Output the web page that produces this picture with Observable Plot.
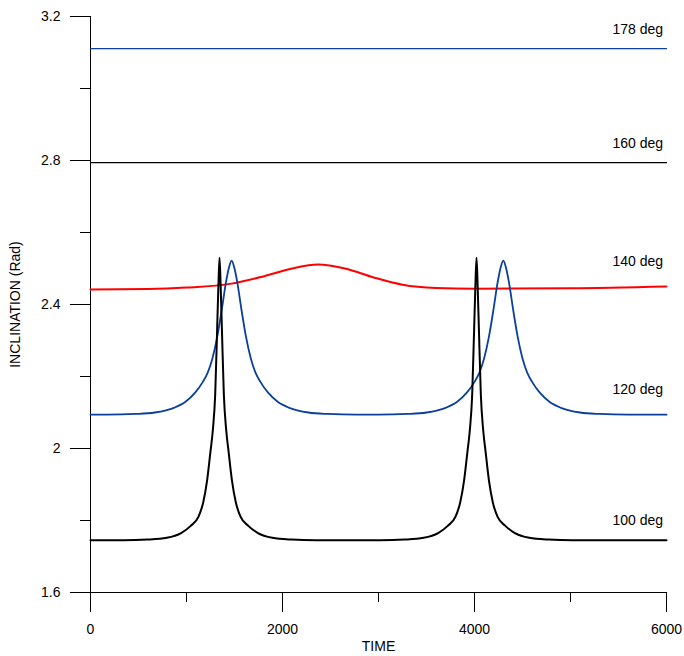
<!DOCTYPE html>
<html>
<head>
<meta charset="utf-8">
<script src="https://cdn.jsdelivr.net/npm/d3@7"></script>
<script src="https://cdn.jsdelivr.net/npm/@observablehq/plot@0.6"></script>
<style>
  body { margin: 0; background: #fff; }
</style>
</head>
<body>
<div id="chart"></div>
<script>
// valores
const t100 = [0, 344, 594, 794, 944, 1044, 1124, 1174, 1214, 1249, 1274, 1299, 1319, 1332, 1344, 1356, 1369, 1389, 1414, 1439, 1474, 1514, 1564, 1644, 1744, 1894, 2094, 2344,
              3021, 3271, 3471, 3621, 3721, 3801, 3851, 3891, 3926, 3951, 3976, 3996, 4009, 4021, 4033, 4046, 4066, 4091, 4116, 4151, 4191, 4241, 4321, 4421, 4571, 4771, 5021, 6000]
const v100 = [1.745, 1.745, 1.747, 1.752, 1.765, 1.785, 1.81, 1.85, 1.91, 1.99, 2.05, 2.15, 2.33, 2.45, 2.53, 2.45, 2.33, 2.15, 2.05, 1.99, 1.91, 1.85, 1.81, 1.785, 1.765, 1.752, 1.747, 1.745,
              1.745, 1.747, 1.752, 1.765, 1.785, 1.81, 1.85, 1.91, 1.99, 2.05, 2.15, 2.33, 2.45, 2.53, 2.45, 2.33, 2.15, 2.05, 1.99, 1.91, 1.85, 1.81, 1.785, 1.765, 1.752, 1.747, 1.745, 1.745]

const t120 = [0, 170, 470, 670, 870, 990, 1090, 1170, 1220, 1270, 1320, 1370, 1410, 1440, 1470, 1500, 1530, 1570, 1620, 1670, 1720, 1770, 1850, 1950, 2070, 2270, 2470, 2770,
              3000, 3300, 3500, 3700, 3820, 3920, 4000, 4050, 4100, 4150, 4200, 4240, 4270, 4300, 4330, 4360, 4400, 4450, 4500, 4550, 4600, 4680, 4780, 4900, 5100, 5300, 5600, 6000]
const v120 = [2.094, 2.094, 2.096, 2.100, 2.113, 2.130, 2.155, 2.185, 2.21, 2.25, 2.31, 2.39, 2.46, 2.50, 2.522, 2.50, 2.46, 2.39, 2.31, 2.25, 2.21, 2.185, 2.155, 2.13, 2.113, 2.10, 2.096, 2.094,
              2.094, 2.096, 2.100, 2.113, 2.130, 2.155, 2.185, 2.21, 2.25, 2.31, 2.39, 2.46, 2.50, 2.522, 2.50, 2.46, 2.39, 2.31, 2.25, 2.21, 2.185, 2.155, 2.13, 2.113, 2.10, 2.096, 2.094, 2.094]

const t140 = [0, 600, 1000, 1470, 1800, 2100, 2370, 2650, 2950, 3250, 3600, 4000, 5000, 6000]
const v140 = [2.442, 2.443, 2.447, 2.458, 2.478, 2.500, 2.511, 2.500, 2.475, 2.455, 2.446, 2.444, 2.445, 2.450]

const t160 = [0, 6000]
const v160 = [2.794, 2.794]
const t178 = [0, 6000]
const v178 = [3.111, 3.111]

const etiquetas = ['178 deg', '160 deg', '140 deg', '120 deg', '100 deg']
const etiquetaY = [3.165, 2.848, 2.52, 2.165, 1.80]

const toRows = (t, v) => t.map((d, i) => ({ t: d, v: v[i] }))
const azul = '#0a3f9e'
const fuente = 'Liberation Sans, Arial, sans-serif'

let chart = Plot.plot({
  width: 684,
  height: 656,
  marginLeft: 90,
  marginRight: 18,
  marginTop: 16,
  marginBottom: 64,
  style: { fontFamily: fuente, fontSize: '13px', color: '#000', background: '#fff' },
  x: { domain: [0, 6000] },
  y: { domain: [1.6, 3.2] },
  marks: [
    Plot.ruleX([0], { stroke: '#000' }),
    Plot.ruleY([1.6], { stroke: '#000' }),
    Plot.axisX({ ticks: [0, 2000, 4000, 6000], tickSize: 20, tickPadding: 12, tickFormat: d => String(d), label: 'TIME', labelAnchor: 'center', labelArrow: 'none', labelOffset: 58, fontSize: 14 }),
    Plot.axisX({ ticks: [1000, 3000, 5000], tickSize: 10, tickFormat: () => '', label: null }),
    Plot.axisY({ ticks: [1.6, 2, 2.4, 2.8, 3.2], tickSize: 20, tickPadding: 10, tickFormat: d => String(d), label: 'INCLINATION (Rad)', labelAnchor: 'center', labelArrow: 'none', labelOffset: 80, fontSize: 14 }),
    Plot.axisY({ ticks: [1.8, 2.2, 2.6, 3.0], tickSize: 10, tickFormat: () => '', label: null }),
    Plot.line(toRows(t178, v178), { x: 't', y: 'v', stroke: azul, strokeWidth: 1.2 }),
    Plot.line(toRows(t160, v160), { x: 't', y: 'v', stroke: '#000', strokeWidth: 1.2 }),
    Plot.line(toRows(t140, v140), { x: 't', y: 'v', stroke: '#ff0000', strokeWidth: 2, curve: 'monotone-x' }),
    Plot.line(toRows(t120, v120), { x: 't', y: 'v', stroke: azul, strokeWidth: 1.8, curve: 'monotone-x' }),
    Plot.line(toRows(t100, v100), { x: 't', y: 'v', stroke: '#000', strokeWidth: 2, curve: 'monotone-x' }),
    Plot.text(etiquetas, { x: 5700, y: (d, i) => etiquetaY[i], text: d => d, fontSize: 14, textAnchor: 'middle', style: 'letter-spacing: 0.5px' }),
  ],
})
d3.select('#chart').append(() => chart)
</script>
</body>
</html>
